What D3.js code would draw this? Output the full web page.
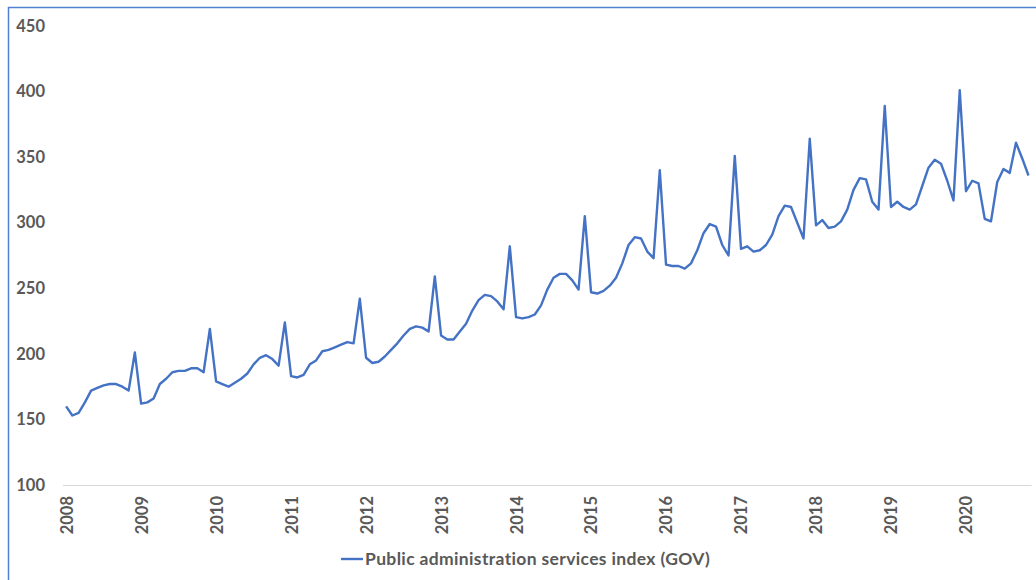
<!DOCTYPE html>
<html>
<head>
<meta charset="utf-8">
<script src="https://cdn.jsdelivr.net/npm/d3@7"></script>
<style>
	html, body { margin: 0; padding: 0; background: #fff; }
	svg { display: block; }
	text { font-family: Lato, "Open Sans", sans-serif; font-weight: 700; fill: #595959; }
</style>
</head>
<body>
<svg id="chart" width="1036" height="580"></svg>
<script>
// monthly index, Jan 2008 .. Nov 2020
var startYear = 2008;
var gov2008 = [160, 153, 155, 163, 172, 174, 176, 177, 177, 175, 172, 201];
var gov2009 = [162, 163, 166, 177, 181, 186, 187, 187, 189, 189, 186, 219];
var gov2010 = [179, 177, 175, 178, 181, 185, 192, 197, 199, 196, 191, 224];
var gov2011 = [183, 182, 184, 192, 195, 202, 203, 205, 207, 209, 208, 242];
var gov2012 = [197, 193, 194, 198, 203, 208, 214, 219, 221, 220, 217, 259];
var gov2013 = [214, 211, 211, 217, 223, 233, 241, 245, 244, 240, 234, 282];
var gov2014 = [228, 227, 228, 230, 237, 249, 258, 261, 261, 256, 249, 305];
var gov2015 = [247, 246, 248, 252, 258, 269, 283, 289, 288, 278, 273, 340];
var gov2016 = [268, 267, 267, 265, 269, 279, 292, 299, 297, 283, 275, 351];
var gov2017 = [280, 282, 278, 279, 283, 291, 305, 313, 312, 300, 288, 364];
var gov2018 = [298, 302, 296, 297, 301, 310, 325, 334, 333, 316, 310, 389];
var gov2019 = [312, 316, 312, 310, 314, 328, 342, 348, 345, 332, 317, 401];
var gov2020 = [324, 332, 330, 303, 301, 331, 341, 338, 361, 349, 336];

var yearLabels = ["2008", "2009", "2010", "2011", "2012", "2013", "2014",
	"2015", "2016", "2017", "2018", "2019", "2020"];
var yTicks = [100, 150, 200, 250, 300, 350, 400, 450];
var seriesName = "Public administration services index (GOV)";

var gov = [].concat(gov2008, gov2009, gov2010, gov2011, gov2012, gov2013, gov2014,
	gov2015, gov2016, gov2017, gov2018, gov2019, gov2020);

// category keys "YYYY-MM"
var months = gov.map(function(v, i) {
	return (startYear + Math.floor(i / 12)) + "-" + (i % 12 + 1);
});

var svg = d3.select("#chart");

// frame of the chart object
svg.append("rect")
	.attr("x", 8.5)
	.attr("y", 7.5)
	.attr("width", 1100)
	.attr("height", 700)
	.attr("fill", "none")
	.attr("stroke", "#4f81d0")
	.attr("stroke-width", 1.5);

var x = d3.scalePoint()
	.domain(months)
	.range([63, 1031.6])
	.padding(0.5);

var y = d3.scaleLinear()
	.domain([100, 450])
	.range([485, 26]);

// category axis line
svg.append("line")
	.attr("x1", 63)
	.attr("x2", 1031.6)
	.attr("y1", y(100) + 0.5)
	.attr("y2", y(100) + 0.5)
	.attr("stroke", "#d9d9d9")
	.attr("stroke-width", 1.2);

// value axis labels
var yAxis = d3.axisLeft(y)
	.tickValues(yTicks)
	.tickSize(0)
	.tickPadding(0);

svg.append("g")
	.attr("transform", "translate(45,0)")
	.call(yAxis)
	.call(function(g) { g.select(".domain").remove(); })
	.selectAll("text")
	.attr("font-size", 16.5)
	.attr("font-family", null)
	.attr("fill", null);

// year labels, rotated
var xAxis = d3.axisBottom(x)
	.tickValues(yearLabels.map(function(yr) { return yr + "-1"; }))
	.tickFormat(function(d) { return d.split("-")[0]; })
	.tickSize(0);

svg.append("g")
	.attr("transform", "translate(0," + y(100) + ")")
	.call(xAxis)
	.call(function(g) { g.select(".domain").remove(); })
	.selectAll("text")
	.attr("font-size", 16.5)
	.attr("font-family", null)
	.attr("fill", null)
	.attr("text-anchor", "end")
	.attr("transform", "rotate(-90)")
	.attr("x", -11)
	.attr("y", 0)
	.attr("dy", "0.36em");

var line = d3.line()
	.x(function(d, i) { return x(months[i]); })
	.y(function(d) { return y(d); });

svg.append("path")
	.datum(gov)
	.attr("fill", "none")
	.attr("stroke", "#4472c4")
	.attr("stroke-width", 2.4)
	.attr("stroke-linejoin", "round")
	.attr("d", line);

// legend
var legend = svg.append("g").attr("transform", "translate(341,559)");
legend.append("line")
	.attr("x1", 0)
	.attr("x2", 22)
	.attr("stroke", "#4472c4")
	.attr("stroke-width", 2.4);
legend.append("text")
	.attr("x", 24)
	.attr("y", 6.3)
	.attr("font-size", 17.5)
	.attr("letter-spacing", 0.35)
	.text(seriesName);
</script>
</body>
</html>
